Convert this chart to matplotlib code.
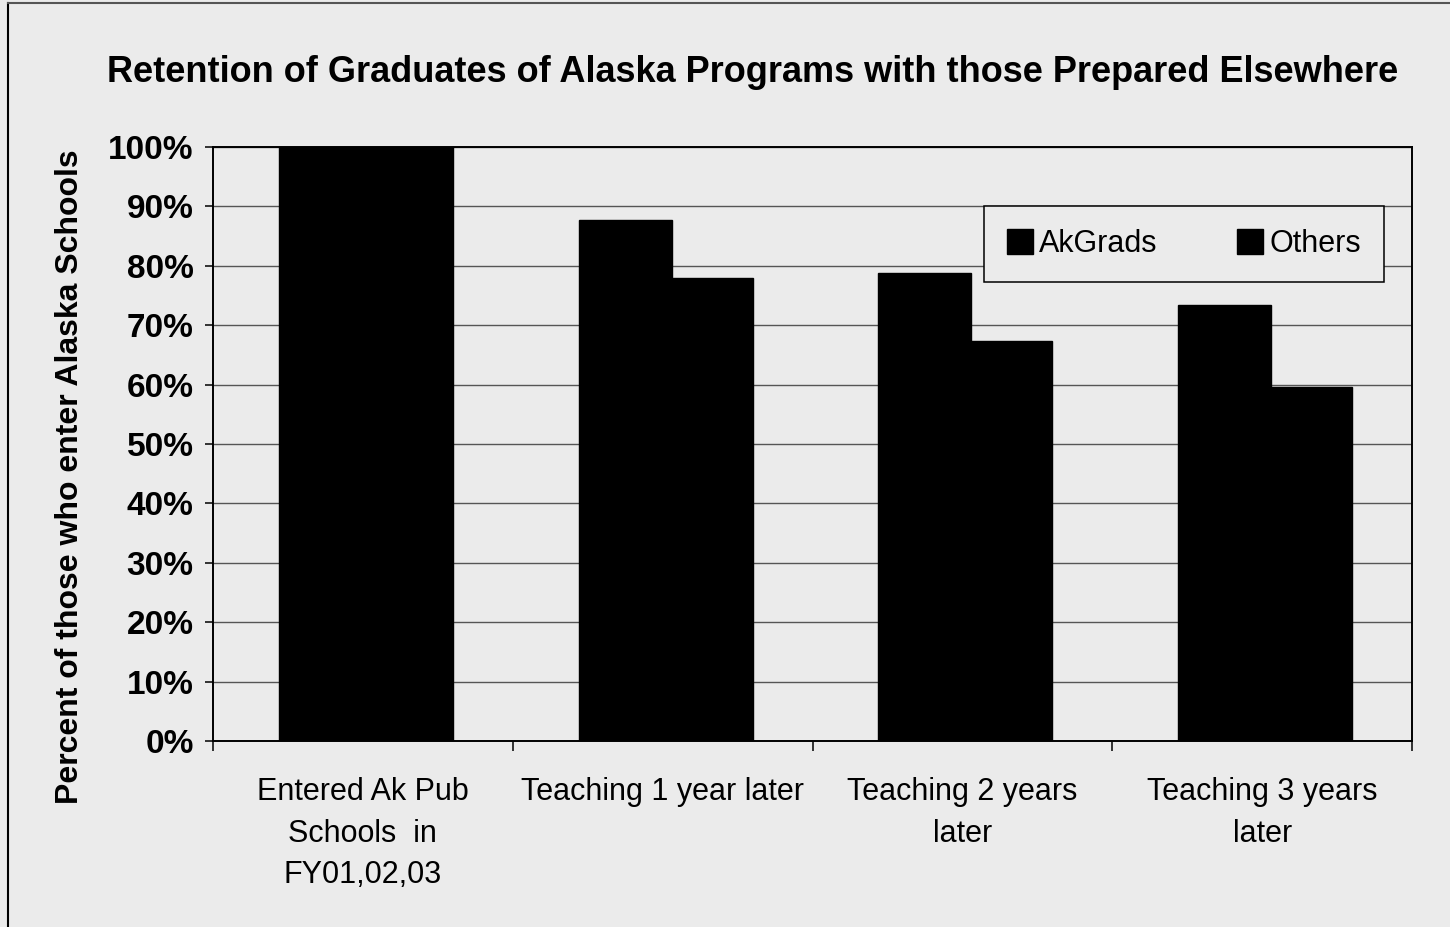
import numpy as np
import matplotlib.pyplot as plt
from matplotlib.lines import Line2D
from matplotlib.patches import Patch

# retention shares (%) by stage
stages = [
    "Entered Ak Pub\nSchools  in\nFY01,02,03",
    "Teaching 1 year later",
    "Teaching 2 years\nlater",
    "Teaching 3 years\nlater",
]
ak_grads = [100.0, 87.7, 78.8, 73.4]
others = [100.0, 77.9, 67.3, 59.6]
y_ticks = list(range(0, 101, 10))

BG = "#ebebeb"
plt.rcParams["font.family"] = ["Liberation Sans", "DejaVu Sans"]

fig = plt.figure(figsize=(14.5, 9.27), dpi=100, facecolor=BG)
ax = fig.add_axes([0.1469, 0.2007, 0.8269, 0.6407])
ax.set_facecolor(BG)

x = np.arange(len(stages))
ax.bar(x - 0.28, ak_grads, width=0.31, align="edge", color="black",
       edgecolor="black", label="AkGrads", zorder=3)
ax.bar(x + 0.03, others, width=0.27, align="edge", color="black",
       edgecolor="black", label="Others", zorder=3)

ax.set_xlim(-0.5, len(stages) - 0.5)
ax.set_ylim(0, 100)
ax.set_yticks(y_ticks)
ax.set_yticklabels([f"{v}%" for v in y_ticks], fontsize=24, fontweight="bold")
ax.yaxis.grid(True, color="#555555", lw=1.0, zorder=0)
ax.set_axisbelow(True)

ax.set_xticks(x)
ax.set_xticklabels(stages, fontsize=22, linespacing=1.5)
ax.set_xticks(np.arange(len(stages) + 1) - 0.5, minor=True)
ax.tick_params(axis="x", which="major", length=0, pad=26)
ax.tick_params(axis="x", which="minor", length=7, width=1.1, direction="out")
ax.tick_params(axis="y", length=6, width=1.1, pad=8)

for side in ["top", "right", "left", "bottom"]:
    ax.spines[side].set_color("black")
    ax.spines[side].set_linewidth(1.4)

handles = [Patch(facecolor="black", edgecolor="black"),
           Patch(facecolor="black", edgecolor="black")]
leg = fig.legend(handles, ["AkGrads", "Others"], loc="center",
                 bbox_to_anchor=(978 / 1450, 1 - 278 / 927, 412 / 1450, 68 / 927),
                 ncol=2, fontsize=22, frameon=True, fancybox=False,
                 facecolor=BG, edgecolor="black", framealpha=1,
                 handlelength=0.85, handleheight=0.85, handletextpad=0.2,
                 columnspacing=2.6, borderpad=0.75)
leg.get_frame().set_linewidth(1.1)

fig.text(0.519, 1 - 72 / 927,
         "Retention of Graduates of Alaska Programs with those Prepared Elsewhere",
         ha="center", va="center", fontsize=26, fontweight="bold")
fig.text(70 / 1450, 1 - 477 / 927, "Percent of those who enter Alaska Schools",
         rotation=90, ha="center", va="center", fontsize=23, fontweight="bold")

# outer chart frame
fig.add_artist(Line2D([8 / 1450, 8 / 1450], [0, 1 - 3 / 927], color="black", lw=1.5))
fig.add_artist(Line2D([8 / 1450, 1], [1 - 3 / 927, 1 - 3 / 927], color="#555555", lw=1.5))

fig.savefig("out.png", dpi=100, facecolor=BG)
